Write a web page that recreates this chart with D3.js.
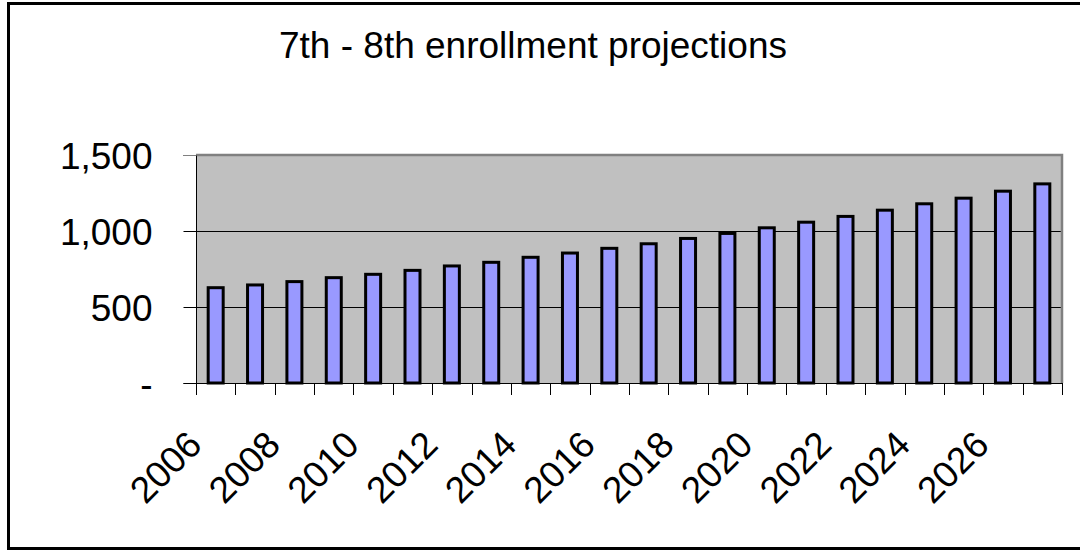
<!DOCTYPE html>
<html><head><meta charset="utf-8">
<script src="https://cdn.jsdelivr.net/npm/d3@7"></script>
<style>body{margin:0;background:#fff;}svg{display:block;font-family:"Liberation Sans",Arial,sans-serif;}</style>
</head><body>
<svg id="c" width="1080" height="550"></svg>
<script>
const title = "7th - 8th enrollment projections";
const years = [2006,2007,2008,2009,2010,2011,2012,2013,2014,2015,2016,2017,2018,2019,2020,2021,2022,2023,2024,2025,2026,2027];
const enrollment = [627,645,667,693,715,741,770,794,827,855,886,916,951,984,1021,1058,1096,1137,1179,1216,1262,1310];
const yTicks = [0,500,1000,1500];
const yTickLabels = ["-","500","1,000","1,500"];
const xLabelYears = [2006,2008,2010,2012,2014,2016,2018,2020,2022,2024,2026];

const svg = d3.select("#c");
const L=196, R=1062, T=155, B=383;
// outer border
svg.append("rect").attr("x",8.5).attr("y",3.5).attr("width",1100).attr("height",545)
  .attr("fill","#fff").attr("stroke","#000").attr("stroke-width",3);

svg.append("text").attr("x",533).attr("y",58).attr("text-anchor","middle")
  .attr("font-size",37).attr("fill","#000").text(title);

const x = d3.scaleBand().domain(years).range([L,R]).paddingInner(0).paddingOuter(0);
const y = d3.scaleLinear().domain([0,1500]).range([B,T]);

// plot area
svg.append("rect").attr("x",L).attr("y",T).attr("width",R-L).attr("height",B-T).attr("fill","#c0c0c0");
// gridlines
svg.append("g").selectAll("line").data(yTicks.filter(d=>d>0&&d<1500)).join("line")
  .attr("x1",L).attr("x2",R).attr("y1",d=>Math.round(y(d))+0.5).attr("y2",d=>Math.round(y(d))+0.5)
  .attr("stroke","#000").attr("stroke-width",1);
// plot border top/right
svg.append("path").attr("d",`M${L},${T}H${R}V${B}`).attr("fill","none").attr("stroke","#808080").attr("stroke-width",2.5);

// bars
const bw = 15;
svg.append("g").selectAll("rect").data(years).join("rect")
  .attr("x",(d)=>x(d)+x.bandwidth()/2-bw/2)
  .attr("width",bw)
  .attr("y",(d,i)=>y(enrollment[i]))
  .attr("height",(d,i)=>B-y(enrollment[i]))
  .attr("fill","#9999ff").attr("stroke","#000").attr("stroke-width",3);

// y axis
const yAxis = d3.axisLeft(y).tickValues(yTicks).tickFormat((d,i)=>yTickLabels[i]).tickSize(13).tickPadding(31).offset(0);
const gy = svg.append("g").attr("transform",`translate(${L+0.5},0.5)`).call(yAxis);
gy.select(".domain").attr("stroke","#000");
gy.selectAll(".tick line").attr("stroke","#000");
gy.selectAll("text").attr("font-size",37).attr("fill","#000").attr("font-family","Liberation Sans, Arial, sans-serif").attr("dy","0.36em");
gy.selectAll(".tick").filter(d=>d===1500).select("line").attr("stroke","#808080");

// x axis: tick lines at category boundaries
const xb = svg.append("g");
xb.append("line").attr("x1",L).attr("x2",R).attr("y1",B+0.5).attr("y2",B+0.5).attr("stroke","#000");
const bounds = years.map(d=>x(d)).concat([R]);
xb.selectAll("line.t").data(bounds).join("line").attr("class","t")
  .attr("x1",d=>Math.round(d)+0.5).attr("x2",d=>Math.round(d)+0.5).attr("y1",B).attr("y2",B+12).attr("stroke","#000");
// x labels
xb.selectAll("text").data(xLabelYears).join("text")
  .attr("transform",d=>`translate(${x(d)+x.bandwidth()/2-12},447) rotate(-45)`)
  .attr("text-anchor","end").attr("font-size",37).attr("fill","#000").text(d=>d);
</script>
</body></html>
